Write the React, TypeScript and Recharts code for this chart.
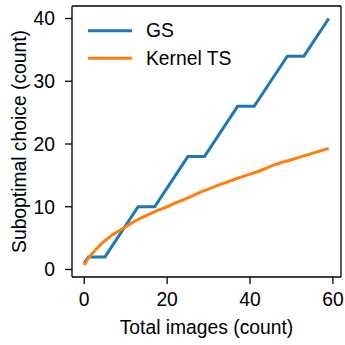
import React from 'react'
import { LineChart, Line, XAxis, YAxis, ReferenceLine } from 'recharts'

// GS: step-like path, read at its corners
const gsX = [0, 1, 5, 13, 17, 25, 29, 37, 41, 49, 53, 59]
const gsY = [1, 2, 2, 10, 10, 18, 18, 26, 26, 34, 34, 40]

// Kernel TS: smooth curve
const kernelX = [0, 1, 2, 3, 4, 5, 6, 7, 8, 10, 12, 14, 16, 18, 20, 22, 25, 28, 30, 33, 36, 40, 43, 46, 50, 53, 56, 59]
const kernelY = [0.7, 1.8, 2.6, 3.3, 4.0, 4.6, 5.1, 5.6, 6.0, 6.8, 7.6, 8.3, 8.9, 9.5, 10.0, 10.6, 11.4, 12.3, 12.8, 13.6, 14.3, 15.2, 15.9, 16.7, 17.5, 18.1, 18.7, 19.3]

const seriesNames = ['GS', 'Kernel TS']
const xTicks = [0, 20, 40, 60]
const yTicks = [0, 10, 20, 30, 40]

const gsData = gsX.map((x, i) => ({ x, y: gsY[i] }))
const kernelData = kernelX.map((x, i) => ({ x, y: kernelY[i] }))

const BLUE = '#1f77b4'
const ORANGE = '#ff7f0e'
const colors = [BLUE, ORANGE]
const FONT = '"Liberation Sans", Arial, sans-serif'
const FS = 19.3
const xDomain = [-2.95, 61.95]
const yDomain = [-1.2, 42]

// legend drawn by hand: Recharts' Legend would eat plot space
const LegendBox = () => (
  <svg width={170} height={60} style={{ position: 'absolute', left: 88, top: 17 }}>
    {seriesNames.map((name, i) => (
      <g key={name}>
        <line x1={0} x2={44} y1={13.7 + i * 27.6} y2={13.7 + i * 27.6} stroke={colors[i]} strokeWidth={3} />
        <text x={58} y={13.7 + i * 27.6} dominantBaseline="central" fontSize={FS} fontFamily={FONT} fill="#000">
          {name}
        </text>
      </g>
    ))}
  </svg>
)

export default function App() {
  const tickStyle = { fontSize: FS, fill: '#000', fontFamily: FONT }
  const labelStyle = { fontSize: FS, fill: '#000', fontFamily: FONT }
  return (
    <div style={{ position: 'absolute', left: 0, top: 0, width: 345, height: 345, background: '#fff' }}>
      <LineChart width={345} height={345} margin={{ top: 6, right: 4, bottom: 0, left: 0 }}>
        <XAxis
          dataKey="x"
          type="number"
          domain={xDomain}
          allowDataOverflow
          ticks={xTicks}
          height={68}
          tickSize={7}
          tickMargin={8}
          stroke="#000"
          strokeWidth={1.3}
          tick={tickStyle}
          label={{ value: 'Total images (count)', position: 'insideBottom', offset: 11, style: labelStyle }}
        />
        <YAxis
          type="number"
          domain={yDomain}
          allowDataOverflow
          ticks={yTicks}
          width={72}
          tickSize={7}
          tickMargin={10}
          stroke="#000"
          strokeWidth={1.3}
          tick={tickStyle}
          label={{ value: 'Suboptimal choice (count)', angle: -90, position: 'insideLeft', offset: 19, style: { ...labelStyle, textAnchor: 'middle' } }}
        />
        <ReferenceLine y={yDomain[1]} stroke="#000" strokeWidth={1.3} />
        <ReferenceLine x={xDomain[1]} stroke="#000" strokeWidth={1.3} />
        <Line data={gsData} dataKey="y" name={seriesNames[0]} type="linear" stroke={BLUE} strokeWidth={3} dot={false} isAnimationActive={false} />
        <Line data={kernelData} dataKey="y" name={seriesNames[1]} type="monotone" stroke={ORANGE} strokeWidth={3} dot={false} isAnimationActive={false} />
      </LineChart>
      <LegendBox />
    </div>
  )
}
